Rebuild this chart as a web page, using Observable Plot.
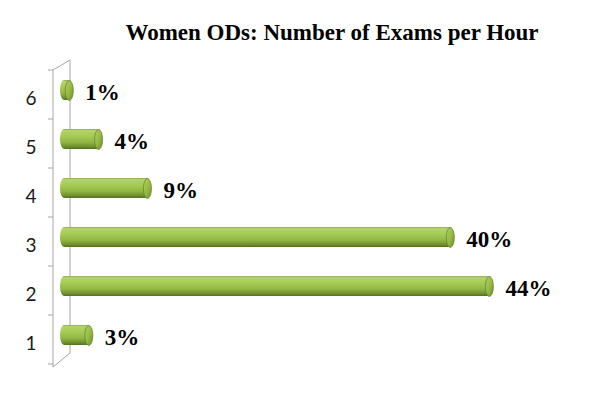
<!DOCTYPE html>
<html><head><meta charset="utf-8">
<script src="https://cdn.jsdelivr.net/npm/d3@7"></script>
<script src="https://cdn.jsdelivr.net/npm/@observablehq/plot@0.6"></script>
<style>
body{margin:0;background:#fff;}
#wrap{position:relative;width:600px;height:395px;overflow:hidden;}
#title{position:absolute;left:0;top:20px;width:600px;padding-left:64px;box-sizing:border-box;text-align:center;font:bold 23px "Liberation Serif","Times New Roman",serif;color:#000;white-space:nowrap;}
#chart{position:absolute;left:0;top:0;}
</style></head><body>
<div id="wrap"><div id="chart"></div><div id="title">Women ODs: Number of Exams per Hour</div></div>
<script>
const categories = ["1","2","3","4","5","6"];
const values = [3, 44, 40, 9, 4, 1];
const labels = ["3%", "44%", "40%", "9%", "4%", "1%"];

const data = categories.map((c, i) => ({cat: c, value: values[i], label: labels[i]}));

const capSymbol = {
  draw(ctx) {
    const rx = 4, ry = 9.9, k = 0.5523;
    ctx.moveTo(rx, 0);
    ctx.bezierCurveTo(rx, ry * k, rx * k, ry, 0, ry);
    ctx.bezierCurveTo(-rx * k, ry, -rx, ry * k, -rx, 0);
    ctx.bezierCurveTo(-rx, -ry * k, -rx * k, -ry, 0, -ry);
    ctx.bezierCurveTo(rx * k, -ry, rx, -ry * k, rx, 0);
    ctx.closePath();
  }
};

const chart = Plot.plot({
  width: 600,
  height: 395,
  marginTop: 70,
  marginBottom: 28,
  marginLeft: 63,
  marginRight: 48.5,
  style: {fontFamily: "Lato, sans-serif", color: "#1a1a1a", background: "transparent"},
  x: {domain: [0, 50], axis: null},
  y: {domain: categories.slice().reverse(), paddingInner: 0.6, paddingOuter: 0.3, axis: null},
  marks: [
    Plot.text(categories, {y: d => d, text: d => d, frameAnchor: "left", textAnchor: "end", dx: -27, dy: 2, fontSize: 19, fontFamily: "Lato, sans-serif", fill: "#1a1a1a"}),
    Plot.barX(data, {x: "value", y: "cat", fill: "url(#barGrad)", rx: 4, ry: 9.9, insetLeft: -3, dy: -6}),
    Plot.dot(data, {x: "value", y: "cat", symbol: capSymbol, fill: "url(#capGrad)", stroke: "#5f7c27", strokeWidth: 0.7, dx: -4, dy: -6}),
    Plot.text(data, {x: "value", y: "cat", text: "label", textAnchor: "start", dx: 12, dy: -4, fontSize: 23, fontWeight: "bold", fontFamily: "'Liberation Serif', 'Times New Roman', serif", fill: "#000"})
  ]
});
document.getElementById("chart").appendChild(chart);

const svg = d3.select(chart);
const defs = svg.insert("defs", ":first-child");
const g1 = defs.append("linearGradient").attr("id", "barGrad").attr("x1", 0).attr("y1", 0).attr("x2", 0).attr("y2", 1);
[["0%", "#8ba65a"], ["8%", "#b3d46a"], ["35%", "#a6cb55"], ["65%", "#92b843"], ["88%", "#6f8f30"], ["100%", "#556e24"]]
  .forEach(([o, c]) => g1.append("stop").attr("offset", o).attr("stop-color", c));
const g2 = defs.append("linearGradient").attr("id", "capGrad").attr("x1", 0).attr("y1", 0).attr("x2", 1).attr("y2", 1);
[["0%", "#b0d062"], ["55%", "#93b845"], ["100%", "#6a8a2c"]]
  .forEach(([o, c]) => g2.append("stop").attr("offset", o).attr("stop-color", c));

// 3D wall decoration derived from scales
const xs = chart.scale("x"), ys = chart.scale("y");
const x0 = xs.apply(0);
const [yTop, yBot] = ys.range;
const step = ys.step;
const wall = svg.insert("g", "defs + *").attr("stroke", "#a6a6a6").attr("stroke-width", 1).attr("fill", "none");
const fx = x0 - 10, bx = x0 + 7;
wall.append("line").attr("x1", fx).attr("x2", fx).attr("y1", yTop).attr("y2", yBot);
wall.append("line").attr("x1", bx).attr("x2", bx).attr("y1", yTop - 10).attr("y2", yBot - 14);
wall.append("line").attr("x1", fx).attr("x2", bx).attr("y1", yTop).attr("y2", yTop - 10);
wall.append("line").attr("x1", fx).attr("x2", bx).attr("y1", yBot).attr("y2", yBot - 14);
for (let i = 0; i <= categories.length; i++) {
  const yy = yTop + i * step;
  wall.append("line").attr("x1", fx - 5).attr("x2", fx).attr("y1", yy).attr("y2", yy);
}
</script>
</body></html>
